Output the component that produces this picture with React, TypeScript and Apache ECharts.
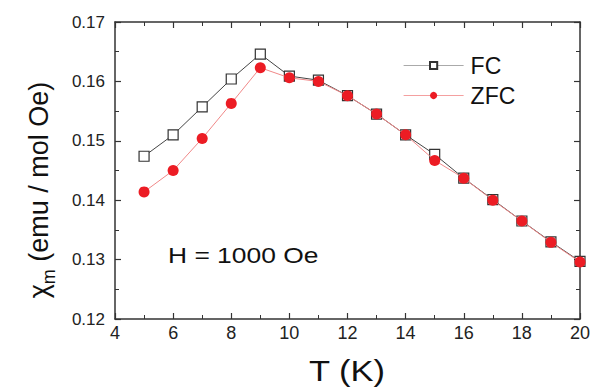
import React, { useEffect, useRef } from "react";
import * as echarts from "echarts";

const temps = [5, 6, 7, 8, 9, 10, 11, 12, 13, 14, 15, 16, 17, 18, 19, 20];
const fcValues = [0.1474, 0.1510, 0.1557, 0.1604, 0.1646, 0.1609, 0.1602, 0.1576, 0.1545, 0.1510, 0.1477, 0.1437, 0.1401, 0.1365, 0.1330, 0.1297];
const zfcValues = [0.1414, 0.1450, 0.1504, 0.1563, 0.1623, 0.1606, 0.1600, 0.1576, 0.1545, 0.1510, 0.1467, 0.1437, 0.1400, 0.1365, 0.1329, 0.1296];
const seriesNames = ["FC", "ZFC"];
const annotation = "H = 1000 Oe";
const xTitle = "T (K)";
const yTitle = "{a|χ}{s|m}{a| (emu / mol Oe)}";

const FONT = "Liberation Sans";

export default function App() {
  const ref = useRef<HTMLDivElement>(null);
  useEffect(() => {
    if (!ref.current) return;
    const chart = echarts.init(ref.current, undefined, { renderer: "svg" });
    const axisLine = { show: true, lineStyle: { color: "#333", width: 1.5 } };
    const xCommon = {
      type: "value",
      min: 4,
      max: 20,
      interval: 2,
      axisLine,
      axisTick: { show: true, inside: true, length: 6, lineStyle: { color: "#333", width: 1.2 } },
      minorTick: { show: true, splitNumber: 2, length: 4, lineStyle: { color: "#333", width: 1 } },
      splitLine: { show: false },
    };
    const yCommon = {
      type: "value",
      min: 0.12,
      max: 0.17,
      interval: 0.01,
      axisLine,
      axisTick: { show: true, inside: true, length: 6, lineStyle: { color: "#333", width: 1.2 } },
      minorTick: { show: true, splitNumber: 2, length: 4, lineStyle: { color: "#333", width: 1 } },
      splitLine: { show: false },
    };
    chart.setOption({
      animation: false,
      backgroundColor: "#fff",
      grid: { left: 115, right: 14, top: 22, bottom: 69, containLabel: false },
      xAxis: [
        {
          ...xCommon,
          position: "bottom",
          axisLabel: { show: true, margin: 5, fontFamily: FONT, fontSize: 18, color: "#222", formatter: (v: number) => String(v) },
        },
        { ...xCommon, position: "top", axisLabel: { show: false } },
      ],
      yAxis: [
        {
          ...yCommon,
          position: "left",
          axisLabel: { show: true, margin: 10, fontFamily: FONT, fontSize: 17, color: "#222", formatter: (v: number) => v.toFixed(2) },
        },
        { ...yCommon, position: "right", axisLabel: { show: false } },
      ],
      legend: {
        orient: "vertical",
        left: 398,
        top: 49,
        itemWidth: 60,
        itemHeight: 9,
        itemGap: 7,
        lineStyle: { width: 1.2 },
        textStyle: { fontFamily: FONT, fontSize: 23, color: "#111", padding: [0, 0, 0, 2] },
        data: [
          { name: seriesNames[0], lineStyle: { color: "#aaa", width: 1.2 } },
          { name: seriesNames[1], lineStyle: { color: "#f4a0a0", width: 1.2 } },
        ],
      },
      graphic: [
        {
          type: "text",
          x: 168,
          y: 255,
          scaleX: 1.2,
          style: { text: annotation, fontFamily: FONT, fontSize: 22, fill: "#111", verticalAlign: "middle", align: "left" },
        },
        {
          type: "text",
          x: 347,
          y: 371,
          scaleX: 1.15,
          style: { text: xTitle, fontFamily: FONT, fontSize: 30, fill: "#111", verticalAlign: "middle", align: "center" },
        },
        {
          type: "text",
          x: 36,
          y: 190,
          rotation: Math.PI / 2,
          style: {
            text: yTitle,
            align: "center",
            verticalAlign: "middle",
            fontFamily: FONT,
            rich: {
              a: { fontFamily: FONT, fontSize: 27, fill: "#111", verticalAlign: "bottom", lineHeight: 32 },
              s: { fontFamily: FONT, fontSize: 18, fill: "#111", verticalAlign: "bottom", lineHeight: 22, padding: [0, 0, -6, 0] },
            },
          },
        },
      ],
      series: [
        {
          name: seriesNames[0],
          type: "line",
          data: temps.map((t, i) => [t, fcValues[i]]),
          symbol: "rect",
          symbolSize: 10,
          itemStyle: { color: "#fff", borderColor: "#333", borderWidth: 1.2 },
          lineStyle: { color: "#444", width: 1 },
          z: 2,
        },
        {
          name: seriesNames[1],
          type: "line",
          data: temps.map((t, i) => [t, zfcValues[i]]),
          symbol: "circle",
          symbolSize: 11,
          itemStyle: { color: "#ec1c24", borderColor: "#ec1c24", borderWidth: 0 },
          lineStyle: { color: "#f08888", width: 1 },
          z: 3,
        },
      ],
    });
    return () => chart.dispose();
  }, []);
  return <div ref={ref} style={{ width: 594, height: 388, position: "absolute", left: 0, top: 0 }} />;
}
